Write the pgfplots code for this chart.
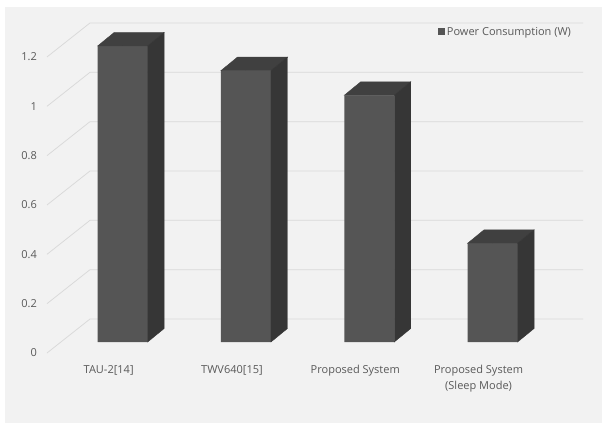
\documentclass[border=0pt]{standalone}
\usepackage{pgfplots}
\pgfplotsset{compat=1.18}
\usepackage{fontspec}
\setmainfont{Open Sans}
\definecolor{bgc}{HTML}{F2F2F2}
\definecolor{gridc}{HTML}{D9D9D9}
\definecolor{txtc}{HTML}{595959}
\definecolor{frontc}{HTML}{555555}
\definecolor{topc}{HTML}{404040}
\definecolor{sidec}{HTML}{363636}
\begin{document}
\begin{tikzpicture}
\path (0pt,0pt) rectangle (602pt,423pt);
\fill[bgc] (5pt,0pt) rectangle (602pt,416pt);
\begin{axis}[
  at={(61pt,81pt)}, anchor=south west,
  x=123.3pt, y=246.7pt,
  xmin=-0.5, xmax=3.5, ymin=0, ymax=1.3,
  clip=false,
  axis line style={draw=none},
  major tick length=0pt,
  ytick={0,0.2,0.4,0.6,0.8,1,1.2},
  yticklabels={0,0.2,0.4,0.6,0.8,1,1.2},
  xtick={0,1,2,3},
  xticklabels={TAU-2[14],TWV640[15],Proposed System,{Proposed System\\(Sleep Mode)}},
  tick label style={font=\fontsize{11}{16}\selectfont, text=txtc},
  yticklabel style={anchor=east, inner sep=0pt, xshift=-24pt, yshift=-11pt},
  xticklabel style={anchor=north, inner sep=0pt, align=center, xshift=-14pt, yshift=-23pt},
  legend style={at={(1.0385,0.9667)}, anchor=east, draw=none, fill=none, inner sep=0pt,
    font=\fontsize{11}{13}\selectfont, text=txtc},
  legend cell align=left,
]
\pgfplotsinvokeforeach{0,0.2,0.4,0.6,0.8,1,1.2}{
  \draw[gridc, line width=0.75pt] ([shift={(-14pt,-11pt)}]axis cs:-0.5,#1) -- ([shift={(29pt,23pt)}]axis cs:-0.5,#1) -- ([shift={(29pt,23pt)}]axis cs:3.5,#1);
}
\addplot[ybar, bar width=50pt, bar shift=0pt, fill=frontc, draw=none,
  legend image code/.code={\fill[frontc] (0pt,-3.5pt) rectangle (7pt,3.5pt);}]
  coordinates {(0,1.2) (1,1.1) (2,1.0) (3,0.4)};
\addlegendentry{Power Consumption (W)}
\addplot[scatter, only marks, mark=*, mark size=0pt, forget plot,
  mark options={draw=none, fill=none},
  visualization depends on={y \as \rawy},
  scatter/@pre marker code/.code={
    \fill[topc] (-25pt,0pt) -- (25pt,0pt) -- (41.5pt,13.5pt) -- (-8.5pt,13.5pt) -- cycle;
    \fill[sidec] (25pt,0pt) -- (41.5pt,13.5pt) -- ++(axis direction cs:0,-\rawy) -- ++(-16.5pt,-13.5pt) -- cycle;
  },
  scatter/@post marker code/.code={}
] coordinates {(0,1.2) (1,1.1) (2,1.0) (3,0.4)};
\end{axis}
\end{tikzpicture}
\end{document}
